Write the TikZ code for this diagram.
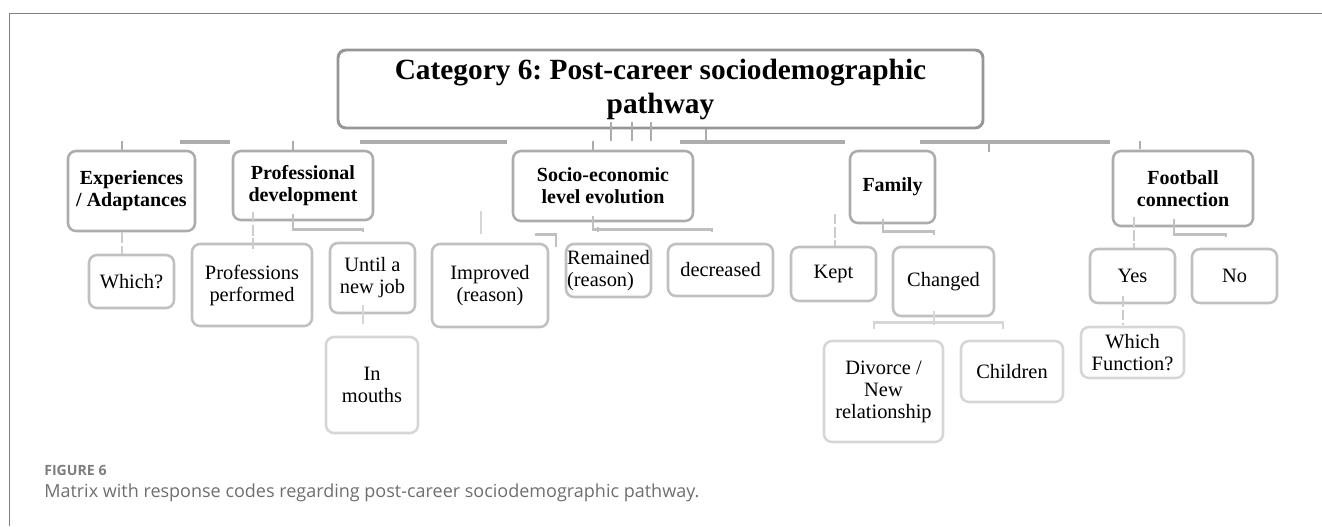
\documentclass[tikz,border=0pt]{standalone}
\usepackage{fontspec}
\setmainfont{Liberation Serif}
\newfontfamily\capfont{Open Sans}
\usetikzlibrary{positioning,calc}
\definecolor{framecol}{RGB}{128,128,128}
\definecolor{headcol}{RGB}{150,150,150}
\definecolor{themecol}{RGB}{172,172,172}
\definecolor{codecol}{RGB}{192,192,192}
\definecolor{subcol}{RGB}{214,214,214}
\definecolor{dashcol}{RGB}{204,204,204}
\definecolor{labelcol}{RGB}{125,125,125}
\definecolor{captioncol}{RGB}{110,110,110}
\frenchspacing

\begin{document}
\begin{tikzpicture}[x=0.75pt,y=-0.75pt,
  sz/.style 2 args={minimum width=#1*0.75pt,minimum height=#2*0.75pt},
  box/.style={draw,rounded corners=6pt,align=center,inner sep=0pt},
  headbox/.style={box,draw=headcol,line width=2.2pt,font=\fontsize{22}{25.5}\selectfont\bfseries},
  themebox/.style={box,draw=themecol,line width=1.9pt,font=\fontsize{15}{16.5}\selectfont\bfseries},
  codebox/.style={box,draw=codecol,line width=1.9pt,font=\fontsize{15.3}{16.5}\selectfont},
  subbox/.style={box,draw=subcol,line width=1.9pt,font=\fontsize{15.3}{16.5}\selectfont},
  trunkline/.style={draw=themecol,line width=2.3pt},
  tickline/.style={draw=themecol,line width=1.8pt},
  dashlink/.style={draw=dashcol,line width=2.2pt,dash pattern=on 8pt off 2pt},
  elbowline/.style={draw=codecol,line width=1.9pt},
  faintline/.style={draw=subcol,line width=1.9pt}]
  \useasboundingbox (0,0) rectangle (1322,526);
  % frame of the figure
  \draw[framecol,line width=0.75pt] (9,526) -- (9,13) -- (1322,13);

  % heading
  \node[headbox,sz={645}{78}] (top) at (660.5,89) {Category 6: Post-career sociodemographic\\pathway};

  % themes
  \node[themebox,sz={127}{80}] (exp) at (131.5,191) {Experiences\\/ Adaptances};
  \node[themebox,sz={140}{69}] (prof) at (303,185.5) {Professional\\development};
  \node[themebox,sz={180}{70}] (socio) at (603,186) {Socio-economic\\level evolution};
  \node[themebox,sz={85}{72}] (family) at (892.5,187) {Family};
  \node[themebox,sz={140}{75}] (football) at (1183,188.5) {Football\\connection};

  % codes
  \node[codebox,sz={85}{53}] (which) at (131.5,281.5) {Which?};
  \node[codebox,sz={120}{82}] (profs) at (252,285) {Professions\\performed};
  \node[codebox,sz={85}{70}] (until) at (372.5,278) {Until a\\new job};
  \node[codebox,sz={116}{83}] (improved) at (490,285.5) {Improved\\(reason)};
  \node[codebox,sz={85}{53},align=left] (remained) at (608.5,270.5) {Remained\\(reason)};
  \node[codebox,sz={105}{52}] (decreased) at (720.5,270) {decreased};
  \node[codebox,sz={85}{54}] (kept) at (833.5,274) {Kept};
  \node[codebox,sz={101}{69}] (changed) at (943.5,281.5) {Changed};
  \node[codebox,sz={85}{54}] (yes) at (1132.5,276) {Yes};
  \node[codebox,sz={85}{54}] (no) at (1234.5,276) {No};

  % sub-codes
  \node[subbox,sz={92}{96}] (mouths) at (372,385) {In\\mouths};
  \node[subbox,sz={119}{101}] (divorce) at (883.5,391.5) {Divorce /\\New\\relationship};
  \node[subbox,sz={102}{61}] (children) at (1012,371.5) {Children};
  \node[subbox,sz={103}{51}] (whichfn) at (1132.5,352.5) {Which\\Function?};

  % trunk under the heading
  \foreach \a/\b in {180/230,360/507,680/845,920/1110}
    \draw[trunkline] (\a,142) -- (\b,142);
  \foreach \dx in {-49.5,-28.5,-9.5}
    \draw[tickline] ($(top.south)+(\dx,-7)$) -- ++(0,19);
  \draw[tickline] ($(top.south)+(45.5,0)$) -- ++(0,15);

  % ticks down to the themes
  \draw[tickline] ($(exp.north)+(-9.5,-9)$) -- ++(0,9);
  \draw[tickline] ($(prof.north)+(-10,-9)$) -- ++(0,9);
  \draw[tickline] ($(socio.north)+(-10,-9)$) -- ++(0,9);
  \draw[tickline] ($(family.north)+(96.5,-9)$) -- ++(0,11);
  \draw[tickline] ($(football.north)+(-43,-9)$) -- ++(0,8);

  % experiences
  \draw[dashlink] ($(exp.south)+(-9.5,0)$) -- ($(which.north)+(-9.5,0)$);
  % professional development
  \draw[dashlink] ($(profs.north)+(1,-31)$) -- ($(profs.north)+(1,9)$);
  \draw[elbowline] ($(prof.south)+(-10,-7)$) -- ++(0,15) -| ($(until.north)+(-9.5,-10)$);
  \draw[faintline] ($(until.south)+(-9.5,-9)$) -- ($(mouths.north)+(-9,-12)$);
  % socio-economic level
  \draw[elbowline] ($(socio.south)+(-10,-6)$) -- ++(0,13) -| ($(decreased.north)+(-8.5,-11)$);
  \draw[elbowline] ($(remained.north)+(-10.5,-16)$) -- ++(0,5);
  \draw[faintline] ($(improved.north)+(-9,-32)$) -- ++(0,23);
  \draw[elbowline] ($(improved.north)+(45,-8)$) -- ++(21,0) -- ++(0,12);
  % family
  \draw[dashlink] ($(kept.north)+(1.5,-32)$) -- ($(kept.north)+(1.5,0)$);
  \draw[elbowline] ($(family.south)+(-9.5,-5)$) -- ++(0,12) -| ($(changed.north)+(-9.5,-11)$);
  \draw[faintline] ($(changed.south)+(-9.5,-6)$) -- ++(0,14);
  \draw[faintline] ($(divorce.north)+(-9.5,-11)$) -- ++(0,-6) -- ($(children.north)+(-9,-17)$) -- ++(0,6);
  % football connection
  \draw[dashlink] ($(yes.north)+(1.5,-31)$) -- ($(yes.north)+(1.5,0)$);
  \draw[elbowline] ($(football.south)+(-9,-8)$) -- ++(0,15) -| ($(no.north)+(-8.5,-11)$);
  \draw[dashlink] ($(yes.south)+(-9.5,-8)$) -- ($(whichfn.north)+(-9.5,-1)$);

  % caption
  \node[anchor=west,inner sep=0pt,text=labelcol,font=\capfont\bfseries\fontsize{10.6}{12}\selectfont] (figlabel) at (44,470) {FIGURE 6};
  \node[anchor=west,inner sep=0pt,text=captioncol,font=\capfont\fontsize{13.5}{15}\selectfont] (figcaption) at (44,493) {Matrix with response codes regarding post-career sociodemographic pathway.};
\end{tikzpicture}
\end{document}
